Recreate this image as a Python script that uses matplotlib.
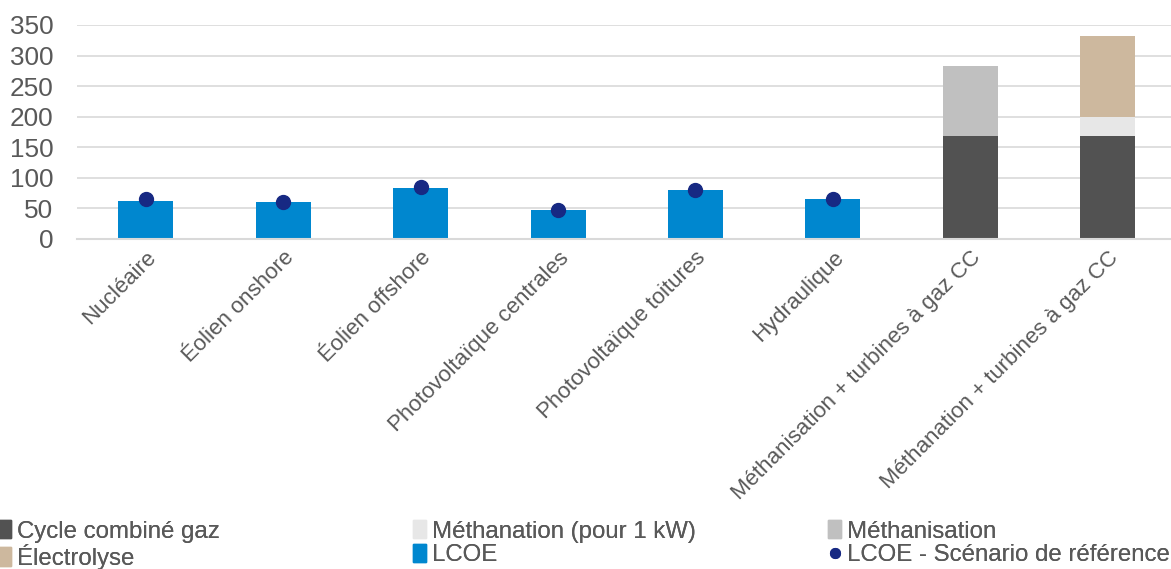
import matplotlib
matplotlib.use("Agg")
import matplotlib.pyplot as plt
from matplotlib.patches import Patch
from matplotlib.lines import Line2D
import numpy as np

plt.rcParams['font.family'] = ['Liberation Sans', 'DejaVu Sans']

categories = ["Nucléaire", "Éolien onshore", "Éolien offshore", "Photovoltaïque centrales",
              "Photovoltaïque toitures", "Hydraulique",
              "Méthanisation + turbines à gaz CC", "Méthanation + turbines à gaz CC"]
lcoe = [62, 61, 84, 48, 80, 66, 0, 0]
lcoe_ref = [66, 61, 85, 48, 80, 66]
ccg = [0, 0, 0, 0, 0, 0, 168, 168]
methanation = [0, 0, 0, 0, 0, 0, 0, 31]
methanisation = [0, 0, 0, 0, 0, 0, 115, 0]
electrolyse = [0, 0, 0, 0, 0, 0, 0, 133]
yticks = [0, 50, 100, 150, 200, 250, 300, 350]

c_ccg = "#525252"
c_mtn = "#e7e7e7"
c_mts = "#c0c0c0"
c_ele = "#cdb89e"
c_lcoe = "#0087cf"
c_ref = "#172983"
txt = "#595959"

fig = plt.figure(figsize=(11.71, 5.69), dpi=100)
ax = fig.add_axes([77/1171, 1-239/569, 1-77/1171, (239-25)/569])

x = np.arange(len(categories))
w = 0.4
ccg_a = np.array(ccg); mtn_a = np.array(methanation); mts_a = np.array(methanisation)
ax.bar(x, lcoe, w, color=c_lcoe, zorder=2)
ax.bar(x, ccg_a, w, color=c_ccg, zorder=2)
ax.bar(x, mtn_a, w, bottom=ccg_a, color=c_mtn, zorder=2)
ax.bar(x, mts_a, w, bottom=ccg_a + mtn_a, color=c_mts, zorder=2)
ax.bar(x, electrolyse, w, bottom=ccg_a + mtn_a + mts_a, color=c_ele, zorder=2)
ax.plot(x[:len(lcoe_ref)], lcoe_ref, 'o', color=c_ref, markersize=10, zorder=3, linestyle='none')

ax.set_ylim(0, 350)
ax.set_xlim(-0.5, 7.46)
ax.set_yticks(yticks)
ax.yaxis.grid(True, color="#d9d9d9", linewidth=1.2, zorder=0)
ax.set_axisbelow(True)
for s in ['top', 'right', 'left']:
    ax.spines[s].set_visible(False)
ax.spines['bottom'].set_color("#d9d9d9")
ax.spines['bottom'].set_linewidth(1.5)
ax.tick_params(axis='both', length=0, labelcolor=txt)
ax.tick_params(axis='y', labelsize=18.8, pad=17)
ax.set_xticks(x)
ax.set_xticklabels(categories, rotation=45, ha='right', rotation_mode='anchor', fontsize=16)
ax.tick_params(axis='x', pad=6)

handles_cols = [
    [(Patch(color=c_ccg), "Cycle combiné gaz"), (Patch(color=c_ele), "Électrolyse")],
    [(Patch(color=c_mtn), "Méthanation (pour 1 kW)"), (Patch(color=c_lcoe), "LCOE")],
    [(Patch(color=c_mts), "Méthanisation"),
     (Line2D([], [], marker='o', color=c_ref, linestyle='none', markersize=7), "LCOE - Scénario de référence")],
]
xs = [-2/1171, 413/1171, 828/1171]
for xi, col in zip(xs, handles_cols):
    leg = fig.legend([h for h, _ in col], [l for _, l in col], loc='upper left',
                     bbox_to_anchor=(xi, 1-520/569), frameon=False, fontsize=17.3,
                     handlelength=0.55, handleheight=0.8, handletextpad=0.25,
                     labelspacing=0.05, borderpad=0, borderaxespad=0)
    for t in leg.get_texts():
        t.set_color(txt)
    fig.add_artist(leg)

fig.savefig("out.png", dpi=100)
